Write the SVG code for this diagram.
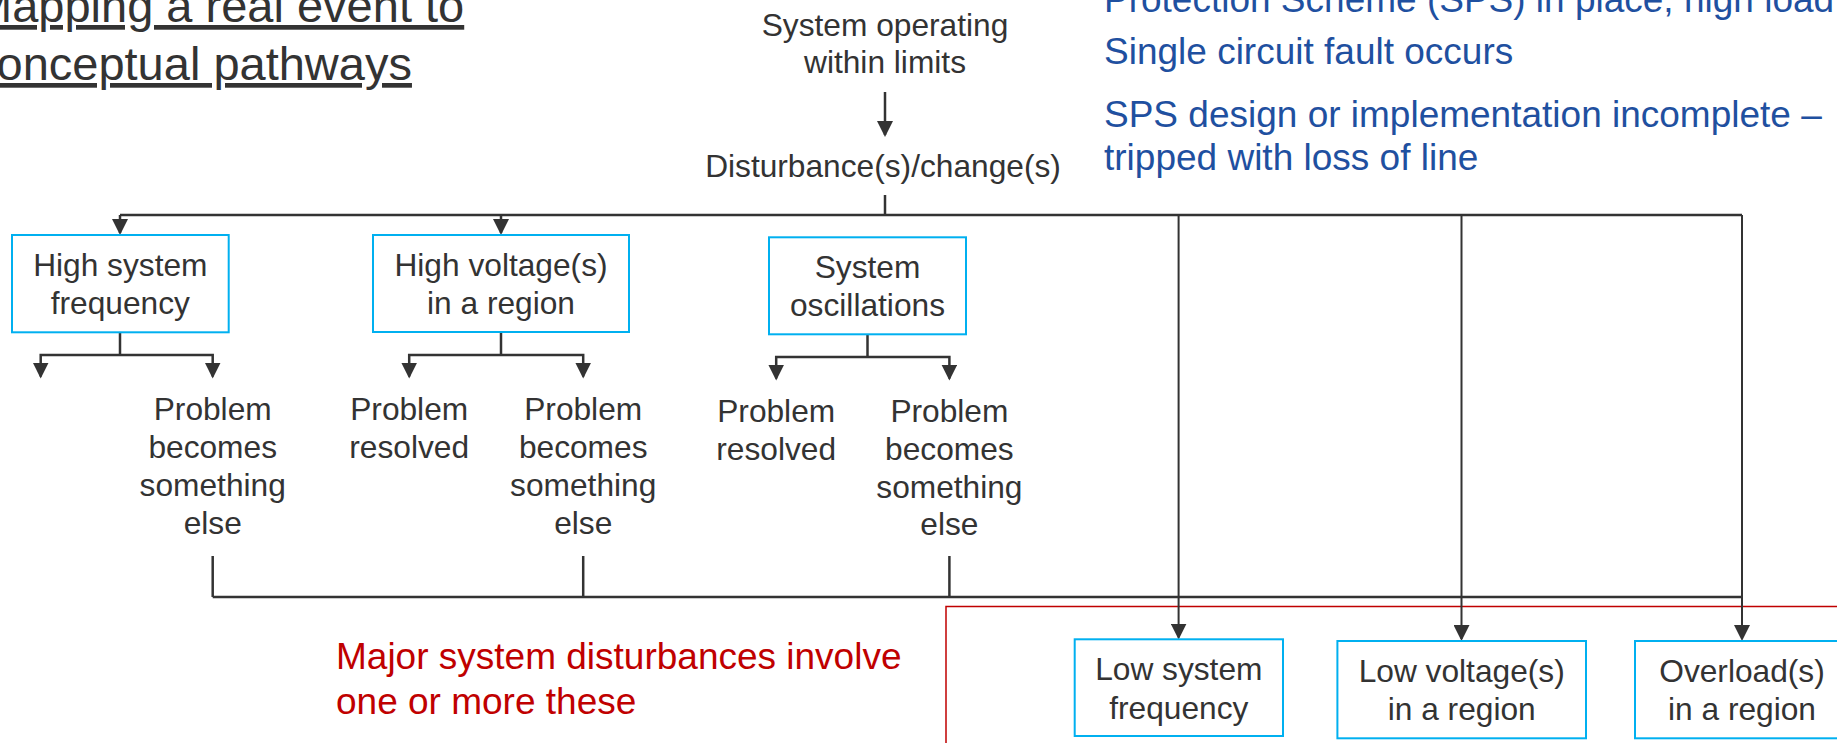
<svg xmlns="http://www.w3.org/2000/svg" width="1837" height="743" viewBox="0 0 1837 743">
<style>
.t{font-family:"Liberation Sans",Arial,sans-serif;font-size:31.7px;fill:#333;text-anchor:middle}
.title{font-family:"Liberation Sans",Arial,sans-serif;font-size:47px;fill:#333;text-decoration:underline}
.blue{font-family:"Liberation Sans",Arial,sans-serif;font-size:37px;fill:#1F50A0}
.red{font-family:"Liberation Sans",Arial,sans-serif;font-size:37px;fill:#C00000}
.box{fill:#fff;stroke:#00B0F0;stroke-width:2}
.c{stroke:#333;stroke-width:2.5;fill:none}
.v{stroke:#333;stroke-width:2;fill:none}
.a{marker-end:url(#ah)}
.aa{marker-start:url(#ah);marker-end:url(#ah)}
</style>
<defs>
<marker id="ah" markerUnits="userSpaceOnUse" markerWidth="16" markerHeight="16" viewBox="0 0 16 16" refX="14" refY="8" orient="auto-start-reverse">
<path d="M0,0 L16,8 L0,16 z" fill="#333"/>
</marker>
</defs>
<rect width="1837" height="743" fill="#fff"/>

<g id="title">
<text class="title" x="-27" y="22">Mapping a real event to</text>
<text class="title" x="-27" y="80">conceptual pathways</text>
</g>

<g id="event-description">
<text class="blue" x="1104" y="12">Protection Scheme (SPS) in place, high load</text>
<text class="blue" x="1104" y="64">Single circuit fault occurs</text>
<text class="blue" x="1104" y="127">SPS design or implementation incomplete –</text>
<text class="blue" x="1104" y="170">tripped with loss of line</text>
</g>

<rect id="major-box" x="946" y="606.5" width="1000" height="200" fill="none" stroke="#C00000" stroke-width="1.5"/>

<g id="major-note">
<text class="red" x="336" y="669">Major system disturbances involve</text>
<text class="red" x="336" y="714">one or more these</text>
</g>

<g id="connectors">
<path class="c a" d="M885,92 V135"/>
<path class="c" d="M885,195 V215"/>
<path class="c" d="M120,215 H1742"/>
<path class="c a" d="M120,215 V233"/>
<path class="c a" d="M501,215 V233"/>
<path class="v a" d="M1178.6,215 V637.5"/>
<path class="v a" d="M1461.5,215 V639"/>
<path class="v a" d="M1742,215 V639"/>
<path class="c" d="M120,332 V355"/>
<path class="c aa" d="M40.7,376.5 V355 H212.7 V376.5"/>
<path class="c" d="M501,332 V355"/>
<path class="c aa" d="M409.2,376.5 V355 H583.2 V376.5"/>
<path class="c" d="M867.5,334 V357"/>
<path class="c aa" d="M776.2,378.5 V357 H949.4 V378.5"/>
<path class="c" d="M212.7,556 V597"/>
<path class="c" d="M583.2,556 V597"/>
<path class="c" d="M949.4,556 V597"/>
<path class="c" d="M212.7,597 H1742"/>
</g>

<g id="n-start">
<text class="t" x="885" y="36">System operating</text>
<text class="t" x="885" y="73">within limits</text>
</g>
<g id="n-disturbance">
<text class="t" x="883" y="177">Disturbance(s)/change(s)</text>
</g>

<g id="n-high-freq">
<rect class="box" x="12" y="235" width="216.7" height="97.3"/>
<text class="t" x="120.3" y="276">High system</text>
<text class="t" x="120.3" y="314">frequency</text>
</g>
<g id="n-high-volt">
<rect class="box" x="373" y="235" width="256" height="97"/>
<text class="t" x="501" y="276">High voltage(s)</text>
<text class="t" x="501" y="314">in a region</text>
</g>
<g id="n-osc">
<rect class="box" x="769" y="237.3" width="197" height="97"/>
<text class="t" x="867.5" y="277.5">System</text>
<text class="t" x="867.5" y="316">oscillations</text>
</g>

<g id="n-hf-else">
<text class="t" x="212.7" y="420">Problem</text>
<text class="t" x="212.7" y="458">becomes</text>
<text class="t" x="212.7" y="496">something</text>
<text class="t" x="212.7" y="534">else</text>
</g>
<g id="n-hv-resolved">
<text class="t" x="409.2" y="420">Problem</text>
<text class="t" x="409.2" y="458">resolved</text>
</g>
<g id="n-hv-else">
<text class="t" x="583.2" y="420">Problem</text>
<text class="t" x="583.2" y="458">becomes</text>
<text class="t" x="583.2" y="496">something</text>
<text class="t" x="583.2" y="534">else</text>
</g>
<g id="n-osc-resolved">
<text class="t" x="776.2" y="421.7">Problem</text>
<text class="t" x="776.2" y="459.5">resolved</text>
</g>
<g id="n-osc-else">
<text class="t" x="949.4" y="421.7">Problem</text>
<text class="t" x="949.4" y="459.5">becomes</text>
<text class="t" x="949.4" y="497.5">something</text>
<text class="t" x="949.4" y="535">else</text>
</g>

<g id="n-low-freq">
<rect class="box" x="1074.7" y="639.3" width="208.3" height="96.7"/>
<text class="t" x="1178.8" y="680">Low system</text>
<text class="t" x="1178.8" y="718.5">frequency</text>
</g>
<g id="n-low-volt">
<rect class="box" x="1337.4" y="641" width="248.6" height="97.3"/>
<text class="t" x="1461.7" y="682">Low voltage(s)</text>
<text class="t" x="1461.7" y="720">in a region</text>
</g>
<g id="n-overload">
<rect class="box" x="1635" y="641" width="214" height="97.3"/>
<text class="t" x="1742" y="682">Overload(s)</text>
<text class="t" x="1742" y="720">in a region</text>
</g>
</svg>
